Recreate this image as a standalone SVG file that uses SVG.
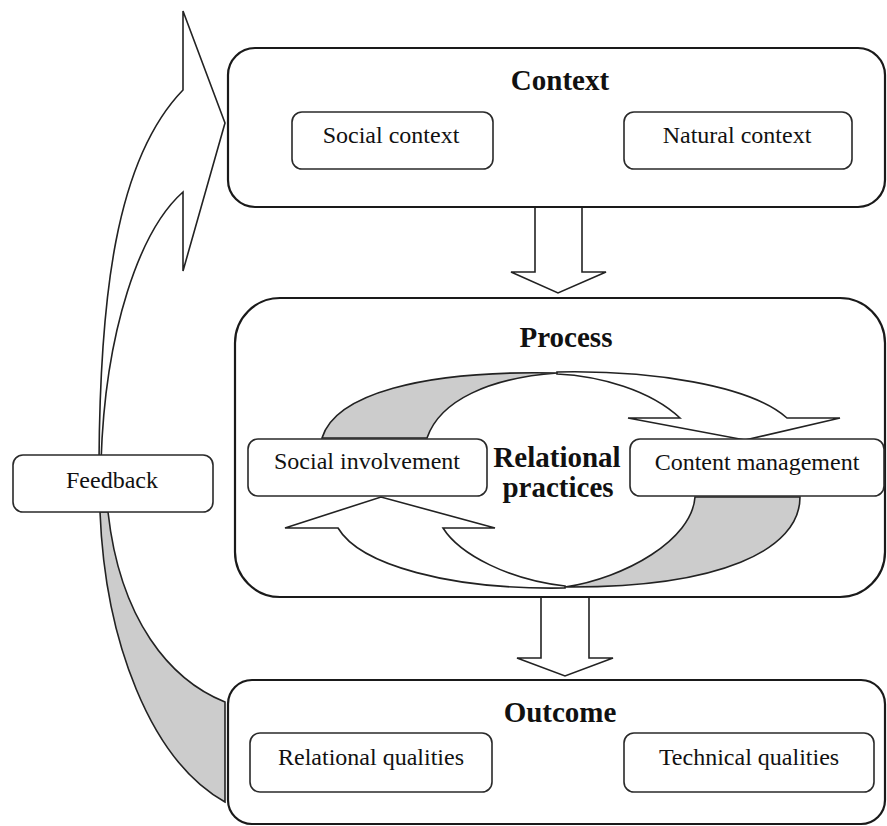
<svg xmlns="http://www.w3.org/2000/svg" width="887" height="826" viewBox="0 0 887 826">
  <style>
    .frame { fill: #ffffff; stroke: #1a1a1a; stroke-width: 2.2; }
    .item { fill: #ffffff; stroke: #2a2a2a; stroke-width: 1.6; }
    .flow { fill: #ffffff; stroke: #222222; stroke-width: 1.6; stroke-linejoin: miter; }
    .band { fill: #cccccc; stroke: #222222; stroke-width: 1.6; }
    .title { font-family: "Liberation Serif", "Times New Roman", serif; font-weight: bold; font-size: 29px; fill: #111111; text-anchor: middle; }
    .label { font-family: "Liberation Serif", "Times New Roman", serif; font-size: 24px; fill: #111111; text-anchor: middle; }
  </style>

  <!-- connectors: feedback loop and stage arrows -->
  <g id="connectors">
    <!-- feedback loop, lower shaded band from Outcome up to Feedback -->
    <path class="band" d="M100,512 C105,640 150,760 225,802 L225,702 C170,680 120,620 108,512 Z"/>
    <!-- feedback loop, upper arrow from Feedback into Context -->
    <path class="flow" d="M183,11 L225,123 L183,271 L183,192 C140,230 105,330 101,462 L99,462 C100,300 115,160 183,90 Z"/>
    <!-- Context to Process -->
    <path class="flow" d="M535,207 L535,272 L511,272 L558,293 L606,272 L582,272 L582,207"/>
    <!-- Process to Outcome -->
    <path class="flow" d="M541,598 L541,658 L517,658 L565,676 L613,658 L589,658 L589,598"/>
  </g>

  <!-- Context stage -->
  <g id="context">
    <rect class="frame" x="228" y="48" width="657" height="159" rx="27" ry="27"/>
    <text class="title" x="560" y="90">Context</text>
  </g>
  <g id="social-context">
    <rect class="item" x="292" y="112" width="201" height="57" rx="10" ry="10"/>
    <text class="label" x="391" y="143">Social context</text>
  </g>
  <g id="natural-context">
    <rect class="item" x="624" y="112" width="228" height="57" rx="10" ry="10"/>
    <text class="label" x="737" y="143">Natural context</text>
  </g>

  <!-- Process stage -->
  <g id="process">
    <rect class="frame" x="235" y="298" width="650" height="299" rx="45" ry="45"/>
    <text class="title" x="566" y="347">Process</text>
  </g>

  <!-- relational practices cycle -->
  <g id="cycle">
    <path class="band" d="M322,438 C335,395 420,370 557,373 C490,378 440,400 427,438 Z"/>
    <path class="flow" d="M557,372 C650,370 750,385 787,418 L840,418 L745,440 L628,418 L680,418 C650,390 600,376 557,374 Z"/>
    <path class="band" d="M800,497 C800,550 720,588 565,587 C625,578 692,540 695,497 Z"/>
    <path class="flow" d="M565,588 C450,590 360,565 338,528 L285,528 L381,497 L495,528 L443,528 C460,555 510,580 565,586 Z"/>
  </g>

  <g id="social-involvement">
    <rect class="item" x="248" y="439" width="239" height="57" rx="10" ry="10"/>
    <text class="label" x="367" y="469">Social involvement</text>
  </g>
  <g id="relational-practices">
    <text class="title" x="557" y="467">Relational</text>
    <text class="title" x="558" y="497">practices</text>
  </g>
  <g id="content-management">
    <rect class="item" x="630" y="439" width="254" height="57" rx="10" ry="10"/>
    <text class="label" x="757" y="470">Content management</text>
  </g>

  <!-- Outcome stage -->
  <g id="outcome">
    <rect class="frame" x="228" y="680" width="657" height="144" rx="24" ry="24"/>
    <text class="title" x="560" y="722">Outcome</text>
  </g>
  <g id="relational-qualities">
    <rect class="item" x="250" y="733" width="242" height="59" rx="10" ry="10"/>
    <text class="label" x="371" y="765">Relational qualities</text>
  </g>
  <g id="technical-qualities">
    <rect class="item" x="624" y="733" width="250" height="59" rx="10" ry="10"/>
    <text class="label" x="749" y="765">Technical qualities</text>
  </g>

  <!-- Feedback -->
  <g id="feedback">
    <rect class="item" x="13" y="455" width="200" height="57" rx="10" ry="10"/>
    <text class="label" x="112" y="488">Feedback</text>
  </g>
</svg>
